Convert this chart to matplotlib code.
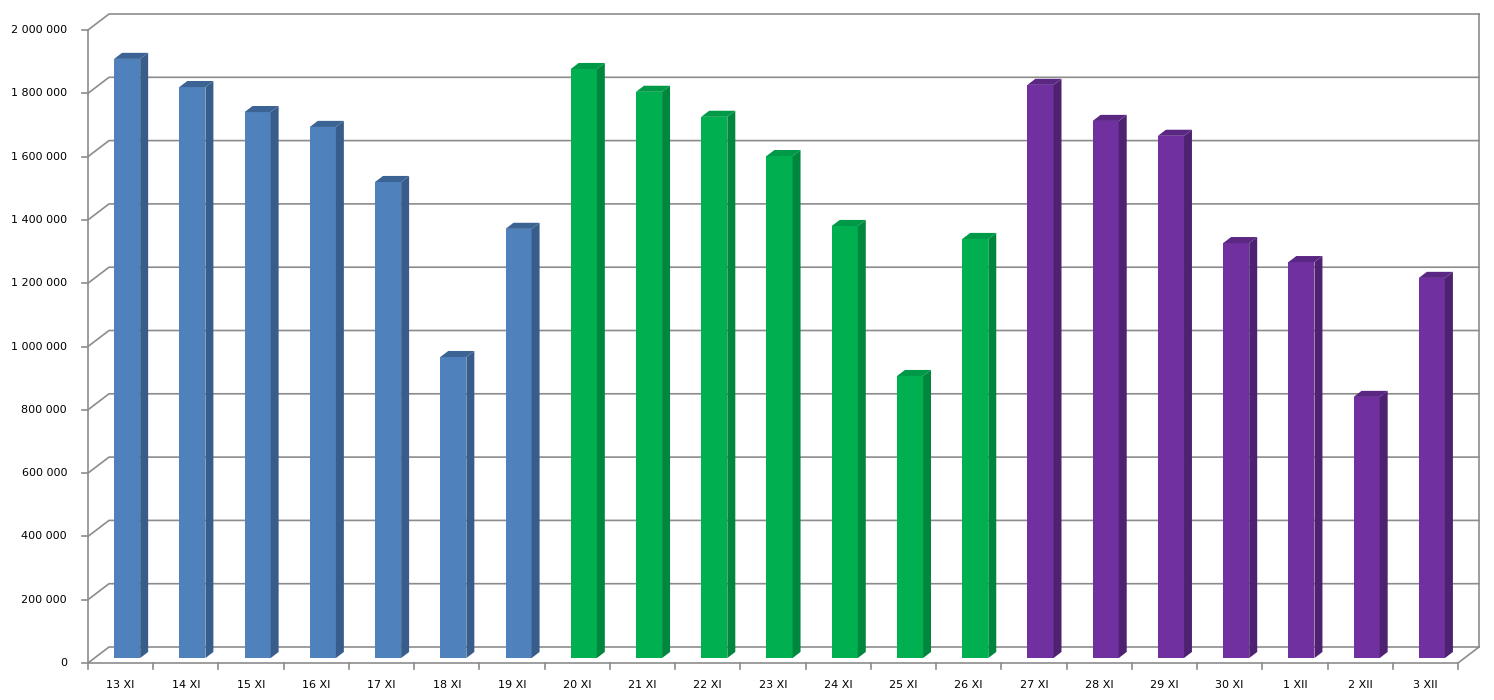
import matplotlib
matplotlib.use('Agg')
import matplotlib.pyplot as plt
from matplotlib.patches import Polygon

plt.rcParams['font.family'] = ['DejaVu Sans']

days = ['13 XI', '14 XI', '15 XI', '16 XI', '17 XI', '18 XI', '19 XI',
        '20 XI', '21 XI', '22 XI', '23 XI', '24 XI', '25 XI', '26 XI',
        '27 XI', '28 XI', '29 XI', '30 XI', '1 XII', '2 XII', '3 XII']
values = [1893000, 1804000, 1725000, 1678000, 1504000, 951000, 1356000,
          1861000, 1789000, 1710000, 1586000, 1365000, 891000, 1324000,
          1811000, 1697000, 1650000, 1311000, 1251000, 825000, 1201000]
week = [0] * 7 + [1] * 7 + [2] * 7
y_ticks = list(range(0, 2000001, 200000))

# front / side / top colours per week
colors = [('#4F81BD', '#385D8A', '#3B6494'),
          ('#00B050', '#00863D', '#009947'),
          ('#7030A0', '#4E2271', '#5A2883')]

W, H = 1494, 700
fig = plt.figure(figsize=(W / 100, H / 100), dpi=100)
# front plot area in pixels
left, right, bottom, top = 88, 1458, 663, 30
ax = fig.add_axes([left / W, 1 - bottom / H, (right - left) / W, (bottom - top) / H])
n = len(days)
x0, x1 = -0.5, n - 0.5
ymax = 2000000
ax.set_xlim(x0, x1)
ax.set_ylim(0, ymax)
ax.axis('off')

px_x = (x1 - x0) / (right - left)
px_y = ymax / (bottom - top)
dx = 21 * px_x   # depth offset
dy = 16 * px_y

grid_c = '#8C8C8C'
lw = 1.2

# back wall gridlines + left wall diagonals
for v in y_ticks:
    ax.plot([x0, x0 + dx, x1 + dx], [v, v + dy, v + dy], color=grid_c, lw=lw,
            clip_on=False, zorder=1)
    ax.plot([x0 - 6 * px_x, x0], [v, v], color=grid_c, lw=lw, clip_on=False)
    ax.text(x0 - 21 * px_x, v, f'{v:,}'.replace(',', ' '), ha='right', va='center',
            fontsize=8, color='black')

# right back edge, front axis, floor
ax.plot([x1 + dx, x1 + dx], [dy, ymax + dy], color=grid_c, lw=lw, clip_on=False, zorder=1)
ax.plot([x0, x0], [0, ymax], color=grid_c, lw=lw, clip_on=False, zorder=1)
ax.plot([x0, x1, x1 + dx], [0, 0, dy], color=grid_c, lw=lw, clip_on=False, zorder=1)
for i in range(n + 1):
    ax.plot([x0 + i, x0 + i], [0, -6 * px_y], color=grid_c, lw=lw, clip_on=False)

for i, d in enumerate(days):
    ax.text(i, -22 * px_y, d, ha='center', va='center', fontsize=8, color='black')

# bars with pseudo 3D faces
bw = 0.4
f, b = 0.31, 0.69
for i, v in enumerate(values):
    fc, sc, tc = colors[week[i]]
    xl = i - bw / 2 + f * dx
    xr = i + bw / 2 + f * dx
    ddx = (b - f) * dx
    ddy = (b - f) * dy
    yb = f * dy
    yt = v + f * dy
    front = Polygon([(xl, yb), (xr, yb), (xr, yt), (xl, yt)], closed=True,
                    facecolor=fc, edgecolor='none', zorder=3, clip_on=False)
    side = Polygon([(xr, yb), (xr + ddx, yb + ddy), (xr + ddx, yt + ddy), (xr, yt)],
                   closed=True, facecolor=sc, edgecolor='none', zorder=3, clip_on=False)
    topf = Polygon([(xl, yt), (xr, yt), (xr + ddx, yt + ddy), (xl + ddx, yt + ddy)],
                   closed=True, facecolor=tc, edgecolor='none', zorder=3, clip_on=False)
    ax.add_patch(front)
    ax.add_patch(side)
    ax.add_patch(topf)

fig.savefig('out.png', dpi=100, facecolor='white')
